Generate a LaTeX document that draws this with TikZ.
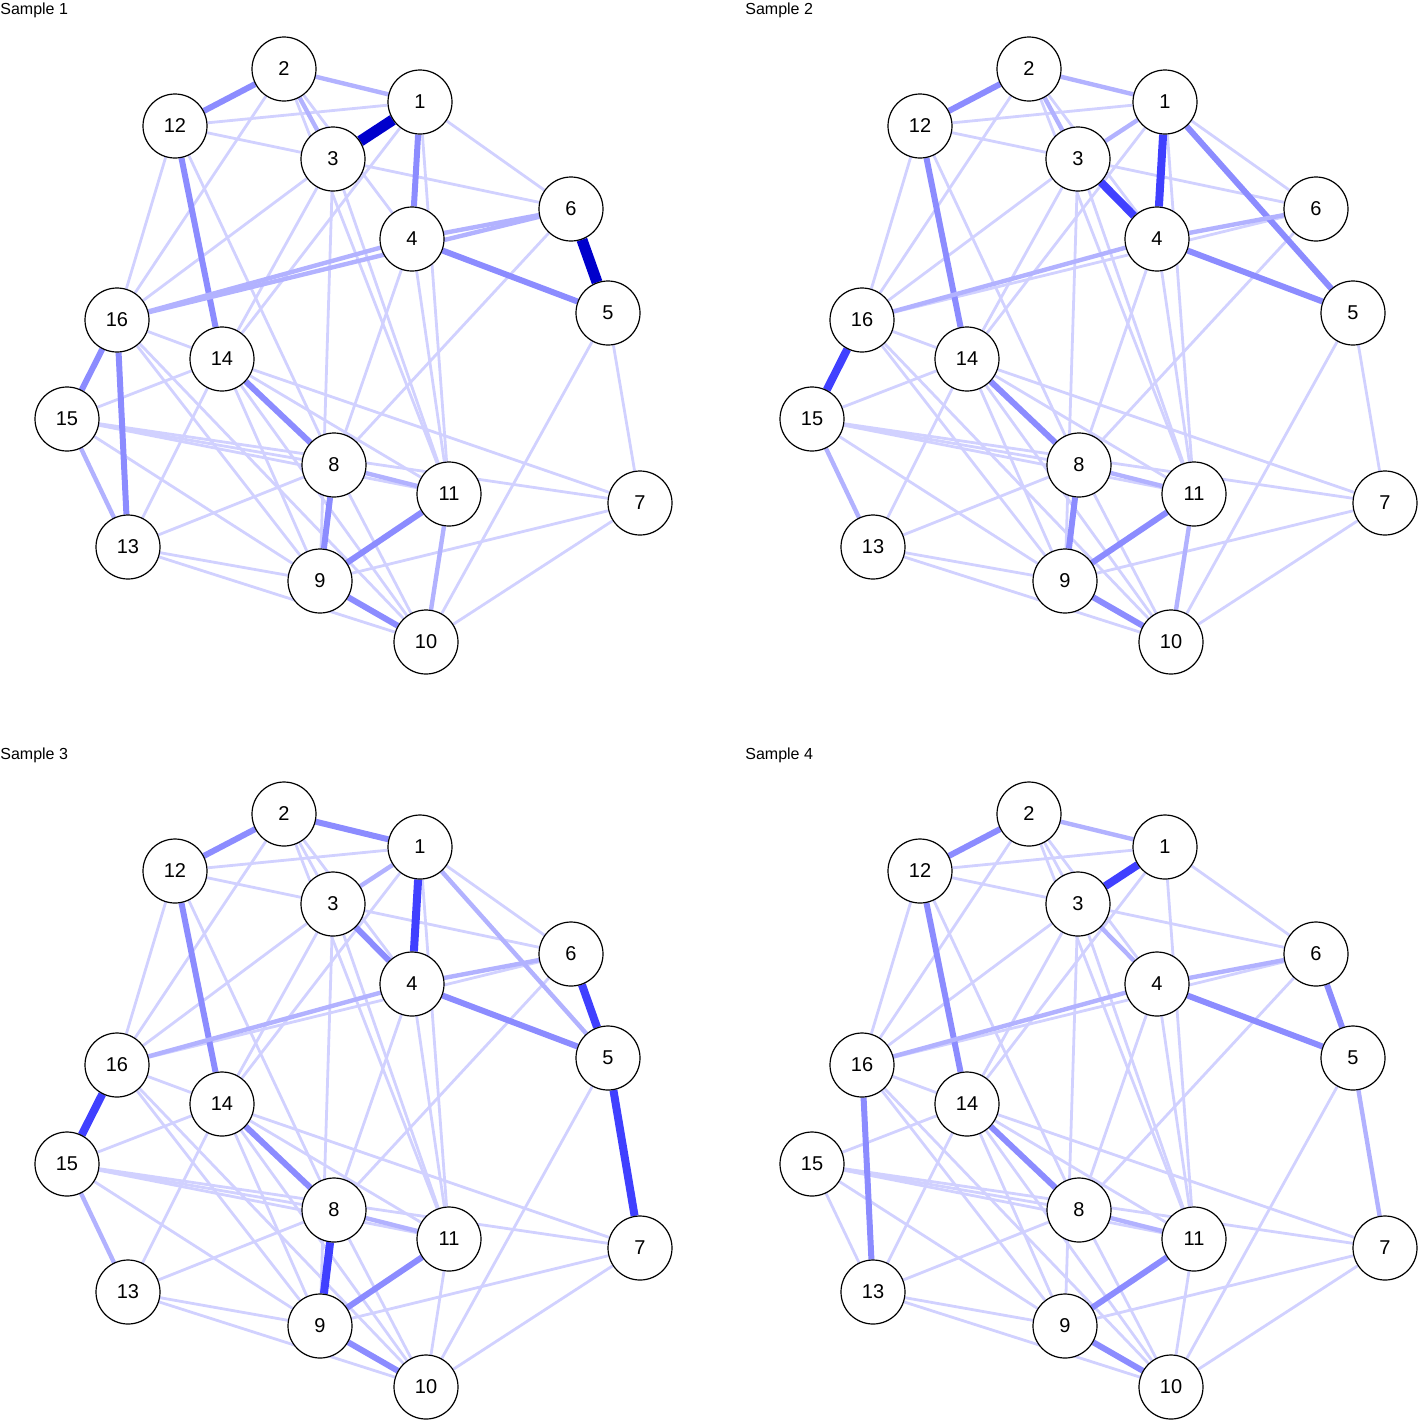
\documentclass[tikz,border=0pt]{standalone}
\usepackage{fontspec}
\setmainfont{Liberation Sans}
\usetikzlibrary{backgrounds}
\tikzset{
  nd/.style={circle,draw=black,fill=white,line width=0.6pt,minimum size=32pt,inner sep=0pt,font=\fontsize{10}{12}\selectfont},
  e1/.style={line width=1.4pt,draw=blue!18},
  e2/.style={line width=2.2pt,draw=blue!30},
  e3/.style={line width=3pt,draw=blue!45},
  e4/.style={line width=4pt,draw=blue!75},
  e5/.style={line width=5.5pt,draw=blue!80!black},
  ttl/.style={anchor=north west,inner sep=0pt,font=\fontsize{8}{10}\selectfont}
}
\newcommand{\netgraph}[5]{%
  \begin{scope}[shift={(#2,#3)}]
  \node[ttl] (#1t) at (0,2) {#4};
  \foreach \n/\px/\py in {1/420/102,2/284/69,3/333/159,4/412/239,5/608/313,6/571/209,7/640/503,8/334/465,9/320/581,10/426/642,11/449/494,12/175/126,13/128/547,14/222/359,15/67/419,16/117/320}
    \node[nd] (#1\n) at (\px,\py) {\n};
  \begin{pgfonlayer}{background}
  \foreach \a/\b in {12/1,12/3,12/16,12/8,2/4,3/16,3/11,3/14,3/6,1/6,1/14,1/11,4/11,4/8,6/8,5/10,5/7,7/9,7/10,7/14,7/15,14/15,14/13,14/11,14/9,14/10,16/14,16/9,16/10,15/9,15/8,15/11,13/9,13/10,13/8,8/10,2/11,2/16,3/9,16/4,16/6,4/6,15/13,8/11,11/10,2/1,2/3}
    \draw[e1] (#1\a) -- (#1\b);
  \foreach \a/\b/\w in {#5}
    \draw[e\w] (#1\a) -- (#1\b);
  \end{pgfonlayer}
  \end{scope}}
\begin{document}
\begin{tikzpicture}[x=0.5pt,y=-0.5pt]
\useasboundingbox (0,0) rectangle (1419,1420);
\netgraph{A}{0}{0}{Sample 1}{1/3/5,6/5/5,2/12/3,1/4/3,4/5/3,16/15/3,16/13/3,8/9/3,9/10/3,9/11/3,14/8/3,12/14/3,2/1/2,2/3/2,15/13/2,8/11/2,11/10/2,16/4/2,16/6/2,4/6/2}
\netgraph{B}{745}{0}{Sample 2}{3/4/4,1/4/4,1/5/3,16/15/4,2/12/3,8/9/3,9/10/3,9/11/3,4/5/3,12/14/3,14/8/3,15/13/2,2/1/2,2/3/2,1/3/2,16/4/2,4/6/2,8/11/2,11/10/2}
\netgraph{C}{0}{745}{Sample 3}{1/4/4,16/15/4,6/5/4,5/7/4,8/9/4,9/10/3,9/11/3,2/12/3,2/1/3,3/4/3,1/3/2,1/5/2,4/5/3,14/8/3,12/14/3,8/11/2,15/13/2,16/4/2,4/6/2}
\netgraph{D}{745}{745}{Sample 4}{1/3/4,16/13/3,2/12/3,2/1/2,4/5/3,6/5/3,5/7/2,9/11/3,9/10/3,14/8/3,12/14/3,8/11/2,3/4/2,16/4/2,4/6/2}
\end{tikzpicture}
\end{document}
